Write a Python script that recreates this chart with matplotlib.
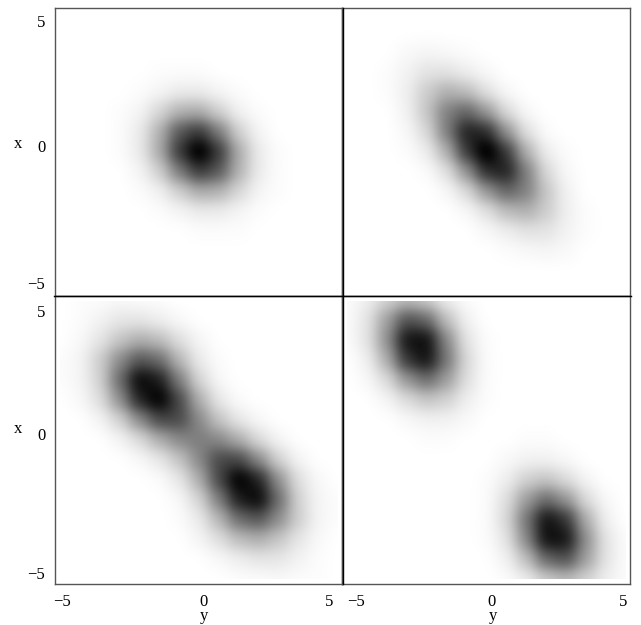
import numpy as np
import matplotlib
matplotlib.use('Agg')
import matplotlib.pyplot as plt
from matplotlib.colors import PowerNorm
from matplotlib.patches import Rectangle
from matplotlib.transforms import ScaledTranslation

plt.rcParams['font.family'] = ['Liberation Serif', 'DejaVu Serif']
plt.rcParams['font.size'] = 12

# darkness (0 white, 100 black), rows from x high to x low
grid_step = 0.76
tick_values = [-5, 0, 5]

density_a = [
    [0, 0, 0, 0, 0, 0, 0, 0, 0, 0, 0, 0, 0, 0, 0],
    [0, 0, 0, 0, 0, 0, 0, 0, 0, 0, 0, 0, 0, 0, 0],
    [0, 0, 0, 0, 0, 0, 0, 0, 0, 0, 0, 0, 0, 0, 0],
    [0, 0, 0, 0, 0, 1, 1, 1, 0, 0, 0, 0, 0, 0, 0],
    [0, 0, 0, 0, 1, 3, 6, 6, 3, 1, 0, 0, 0, 0, 0],
    [0, 0, 0, 1, 3, 13, 26, 28, 15, 4, 1, 0, 0, 0, 0],
    [0, 0, 0, 1, 6, 26, 60, 72, 46, 15, 3, 0, 0, 0, 0],
    [0, 0, 0, 1, 6, 28, 72, 100, 72, 28, 6, 1, 0, 0, 0],
    [0, 0, 0, 0, 3, 15, 46, 72, 60, 26, 6, 1, 0, 0, 0],
    [0, 0, 0, 0, 1, 4, 15, 28, 26, 13, 3, 1, 0, 0, 0],
    [0, 0, 0, 0, 0, 1, 3, 6, 6, 3, 1, 0, 0, 0, 0],
    [0, 0, 0, 0, 0, 0, 0, 1, 1, 1, 0, 0, 0, 0, 0],
    [0, 0, 0, 0, 0, 0, 0, 0, 0, 0, 0, 0, 0, 0, 0],
    [0, 0, 0, 0, 0, 0, 0, 0, 0, 0, 0, 0, 0, 0, 0],
    [0, 0, 0, 0, 0, 0, 0, 0, 0, 0, 0, 0, 0, 0, 0],
]

density_b = [
    [0, 0, 0, 0, 0, 0, 0, 0, 0, 0, 0, 0, 0, 0, 0],
    [0, 0, 0, 0, 0, 0, 0, 0, 0, 0, 0, 0, 0, 0, 0],
    [0, 0, 0, 2, 3, 2, 1, 0, 0, 0, 0, 0, 0, 0, 0],
    [0, 0, 1, 4, 9, 9, 5, 2, 0, 0, 0, 0, 0, 0, 0],
    [0, 0, 1, 5, 17, 27, 22, 9, 2, 0, 0, 0, 0, 0, 0],
    [0, 0, 0, 4, 19, 45, 55, 35, 11, 2, 0, 0, 0, 0, 0],
    [0, 0, 0, 2, 12, 45, 82, 77, 37, 9, 1, 0, 0, 0, 0],
    [0, 0, 0, 1, 5, 26, 72, 100, 72, 26, 5, 1, 0, 0, 0],
    [0, 0, 0, 0, 1, 9, 37, 77, 82, 45, 12, 2, 0, 0, 0],
    [0, 0, 0, 0, 0, 2, 11, 35, 55, 45, 19, 4, 0, 0, 0],
    [0, 0, 0, 0, 0, 0, 2, 9, 22, 27, 17, 5, 1, 0, 0],
    [0, 0, 0, 0, 0, 0, 0, 2, 5, 9, 9, 4, 1, 0, 0],
    [0, 0, 0, 0, 0, 0, 0, 0, 1, 2, 3, 2, 0, 0, 0],
    [0, 0, 0, 0, 0, 0, 0, 0, 0, 0, 0, 0, 0, 0, 0],
    [0, 0, 0, 0, 0, 0, 0, 0, 0, 0, 0, 0, 0, 0, 0],
]

density_c = [
    [0, 1, 1, 2, 1, 1, 0, 0, 0, 0, 0, 0, 0, 0, 0],
    [0, 1, 4, 8, 8, 5, 2, 0, 0, 0, 0, 0, 0, 0, 0],
    [0, 2, 8, 19, 27, 22, 10, 3, 0, 0, 0, 0, 0, 0, 0],
    [1, 3, 16, 40, 60, 52, 24, 6, 1, 0, 0, 0, 0, 0, 0],
    [1, 3, 14, 52, 92, 82, 45, 13, 2, 0, 0, 0, 0, 0, 0],
    [0, 2, 10, 38, 80, 96, 66, 27, 7, 1, 0, 0, 0, 0, 0],
    [0, 0, 3, 14, 40, 66, 66, 41, 19, 7, 2, 0, 0, 0, 0],
    [0, 0, 0, 3, 11, 27, 41, 46, 41, 27, 11, 3, 0, 0, 0],
    [0, 0, 0, 0, 2, 7, 19, 41, 66, 66, 40, 14, 3, 0, 0],
    [0, 0, 0, 0, 0, 1, 7, 27, 66, 96, 80, 38, 10, 2, 0],
    [0, 0, 0, 0, 0, 0, 2, 13, 45, 82, 92, 52, 14, 3, 1],
    [0, 0, 0, 0, 0, 0, 1, 6, 24, 52, 60, 40, 16, 3, 1],
    [0, 0, 0, 0, 0, 0, 0, 3, 10, 22, 27, 19, 8, 2, 0],
    [0, 0, 0, 0, 0, 0, 0, 0, 2, 5, 8, 8, 4, 1, 0],
    [0, 0, 0, 0, 0, 0, 0, 0, 0, 1, 1, 2, 1, 1, 0],
]

density_d = [
    [1, 5, 14, 22, 16, 5, 1, 0, 0, 0, 0, 0, 0, 0, 0],
    [1, 8, 33, 63, 54, 21, 4, 0, 0, 0, 0, 0, 0, 0, 0],
    [1, 8, 38, 87, 89, 41, 8, 1, 0, 0, 0, 0, 0, 0, 0],
    [0, 4, 27, 73, 88, 48, 12, 1, 0, 0, 0, 0, 0, 0, 0],
    [0, 2, 11, 36, 52, 34, 10, 1, 0, 0, 0, 0, 0, 0, 0],
    [0, 0, 3, 11, 19, 15, 5, 1, 0, 0, 0, 0, 0, 0, 0],
    [0, 0, 0, 2, 4, 4, 2, 0, 0, 0, 0, 0, 0, 0, 0],
    [0, 0, 0, 0, 1, 1, 0, 0, 0, 1, 1, 0, 0, 0, 0],
    [0, 0, 0, 0, 0, 0, 0, 0, 2, 4, 4, 2, 0, 0, 0],
    [0, 0, 0, 0, 0, 0, 0, 1, 5, 15, 19, 11, 3, 0, 0],
    [0, 0, 0, 0, 0, 0, 0, 1, 10, 34, 52, 36, 11, 2, 0],
    [0, 0, 0, 0, 0, 0, 0, 1, 12, 48, 88, 73, 27, 4, 0],
    [0, 0, 0, 0, 0, 0, 0, 1, 8, 41, 89, 87, 38, 8, 1],
    [0, 0, 0, 0, 0, 0, 0, 0, 4, 21, 54, 63, 33, 8, 1],
    [0, 0, 0, 0, 0, 0, 0, 0, 1, 5, 16, 22, 14, 5, 1],
]

W, H = 641, 625


def add_panel(left, top, right, bottom, density):
    ax = plt.gcf().add_axes([left / W, 1 - bottom / H, (right - left) / W, (bottom - top) / H])
    half = grid_step * 7.5
    im = ax.imshow(np.array(density, dtype=float), cmap='gray_r',
                   norm=PowerNorm(gamma=0.95, vmin=0, vmax=92, clip=True),
                   extent=[-half, half, -half, half], interpolation='gaussian', aspect='auto')
    im.set_clip_path(Rectangle((-5.32, -5.32), 10.64, 10.64, transform=ax.transData))
    ax.set_xlim(-5.5, 5.5)
    ax.set_ylim(-5.5, 5.5)
    ax.set_xticks([])
    ax.set_yticks([])
    for spine in ax.spines.values():
        spine.set_color('#555555')
        spine.set_linewidth(1.0)
    return ax


def label_ticks(ax, axis, shifts):
    fig = ax.figure
    if axis == 'x':
        ax.set_xticks(tick_values)
        ax.set_xticklabels([str(v).replace('-', '\u2212') for v in tick_values])
        labels = ax.get_xticklabels()
    else:
        ax.set_yticks(tick_values)
        ax.set_yticklabels([str(v).replace('-', '\u2212') for v in tick_values])
        labels = ax.get_yticklabels()
    ax.tick_params(axis=axis, length=0, pad=7)
    for lab, s in zip(labels, shifts):
        dx, dy = (s, 0) if axis == 'x' else (0, s)
        lab.set_transform(lab.get_transform() + ScaledTranslation(dx / 100, dy / 100, fig.dpi_scale_trans))


fig = plt.figure(figsize=(6.41, 6.25), dpi=100)

ax_a = add_panel(55, 8, 342, 296, density_a)
ax_b = add_panel(342, 8, 630, 296, density_b)
ax_c = add_panel(55, 296, 342, 584, density_c)
ax_d = add_panel(342, 296, 630, 584, density_d)

label_ticks(ax_a, 'y', [0, 6, 0])
label_ticks(ax_c, 'y', [-2, 6, -2])
label_ticks(ax_c, 'x', [-6, 4.5, 0])
label_ticks(ax_d, 'x', [1, 5, 6])

# heavier dividers between the panels
fig.add_artist(plt.Line2D([342.5 / W, 342.5 / W], [1 - 584 / H, 1 - 8 / H], color='black', lw=1.0))
fig.add_artist(plt.Line2D([54 / W, 631 / W], [1 - 296 / H, 1 - 296 / H], color='black', lw=1.0))

fig.text(18 / W, 1 - 144 / H, 'x', ha='center', va='center')
fig.text(18 / W, 1 - 429 / H, 'x', ha='center', va='center')
fig.text(204 / W, 1 - 616 / H, 'y', ha='center', va='center')
fig.text(493 / W, 1 - 616 / H, 'y', ha='center', va='center')

fig.savefig('out.png', dpi=100)
